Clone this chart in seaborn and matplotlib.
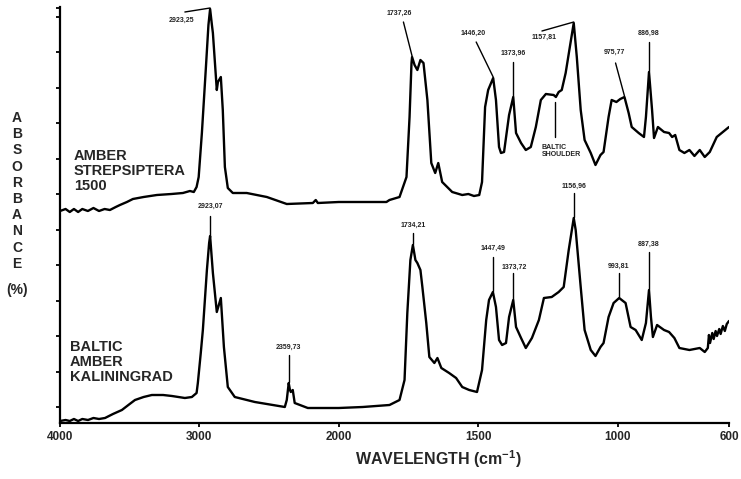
import numpy as np
import pandas as pd
import matplotlib
matplotlib.use("Agg")
import matplotlib.pyplot as plt
import seaborn as sns

# ---------------- data ----------------
top_wn = [4000, 3960, 3930, 3900, 3870, 3840, 3800, 3760, 3720, 3680, 3642, 3600, 3570, 3520,
          3477, 3400, 3305, 3200, 3118, 3068, 3040, 3020, 3005, 2982, 2953, 2935, 2923, 2910,
          2903, 2875, 2867, 2846, 2832, 2817, 2796, 2760, 2660, 2516, 2373, 2186, 2165, 2150,
          2000, 1925, 1829, 1818, 1782, 1757, 1746, 1739, 1737, 1728, 1718, 1707, 1696, 1682,
          1668, 1654, 1643, 1629, 1593, 1557, 1535, 1515, 1496, 1486, 1475, 1464, 1446, 1436,
          1425, 1418, 1407, 1389, 1374, 1364, 1346, 1329, 1311, 1293, 1275, 1257, 1229, 1221,
          1211, 1200, 1186, 1171, 1157, 1146, 1132, 1118, 1096, 1079, 1061, 1050, 1032, 1021,
          1004, 990, 975, 960, 949, 924, 905, 898, 887, 876, 869, 855, 833, 815, 804, 793,
          778, 760, 742, 724, 705, 687, 669, 644, 622, 600]
top_abs = [212, 214, 211, 214, 211, 214, 212, 215, 212, 214, 213, 216, 218, 221,
           224, 226, 228, 229, 230, 232, 231, 236, 246, 290, 356, 398, 414, 398,
           390, 333, 341, 346, 313, 256, 235, 230, 230, 226, 219, 220, 223, 220,
           221, 221, 221, 223, 226, 246, 306, 360, 366, 358, 353, 363, 360, 323,
           260, 250, 260, 241, 231, 228, 229, 227, 228, 241, 316, 333, 345, 323,
           276, 270, 271, 308, 326, 290, 280, 273, 276, 296, 323, 329, 328, 326,
           331, 333, 350, 376, 400, 366, 313, 283, 270, 258, 268, 271, 306, 323,
           321, 324, 326, 310, 296, 290, 286, 306, 351, 313, 285, 296, 291, 290, 286, 288,
           273, 270, 273, 267, 273, 266, 271, 286, 291, 296]

bot_wn = [4000, 3960, 3930, 3900, 3870, 3840, 3799, 3760, 3720, 3677, 3620, 3556, 3500, 3462,
          3400, 3341, 3260, 3197, 3104, 3054, 3020, 3011, 2990, 2975, 2946, 2930, 2923, 2903,
          2875, 2846, 2824, 2796, 2746, 2602, 2387, 2373, 2359, 2350, 2344, 2330, 2316, 2222,
          2050, 2000, 1914, 1818, 1782, 1764, 1754, 1743, 1734, 1725, 1718, 1707, 1700, 1686,
          1675, 1657, 1646, 1632, 1604, 1579, 1557, 1532, 1504, 1486, 1471, 1461, 1447, 1436,
          1425, 1414, 1400, 1389, 1374, 1364, 1346, 1329, 1307, 1282, 1264, 1236, 1211, 1193,
          1175, 1157, 1150, 1132, 1118, 1096, 1079, 1061, 1050, 1032, 1014, 994, 971, 953,
          935, 913, 898, 887, 880, 873, 858, 833, 815, 796, 778, 742, 705, 687, 676, 672,
          668, 660, 655, 648, 643, 635, 630, 622, 615, 608, 600]
bot_abs = [2, 3, 2, 4, 2, 4, 3, 5, 4, 5, 9, 13, 19, 23,
           26, 28, 28, 27, 25, 26, 30, 40, 70, 93, 153, 180, 187, 150,
           111, 125, 76, 36, 26, 21, 16, 23, 40, 33, 31, 33, 20, 15,
           15, 15, 16, 18, 23, 43, 110, 163, 178, 163, 160, 153, 136, 100,
           66, 60, 65, 55, 50, 45, 36, 33, 31, 53, 103, 123, 131, 116,
           83, 78, 80, 106, 123, 96, 85, 75, 85, 103, 125, 126, 131, 136,
           173, 205, 193, 136, 93, 73, 67, 76, 80, 106, 120, 125, 120, 96,
           93, 83, 100, 133, 106, 86, 98, 93, 91, 85, 75, 73, 75, 71, 75, 88,
           80, 90, 84, 92, 87, 94, 89, 97, 92, 99, 102]

sample_names = ["AMBER\nSTREPSIPTERA\n1500", "BALTIC\nAMBER\nKALININGRAD"]
x_ticks = [4000, 3000, 2000, 1500, 1000, 600]

# peak labels: (label, peak wavenumber, curve)
peak_labels = [("2923,25", 2923, 0), ("1737,26", 1737, 0), ("1446,20", 1446, 0),
               ("1373,96", 1374, 0), ("1157,81", 1157, 0), ("975,77", 975, 0),
               ("886,98", 887, 0),
               ("2923,07", 2923, 1), ("2359,73", 2359, 1), ("1734,21", 1734, 1),
               ("1447,49", 1447, 1), ("1373,72", 1374, 1), ("1156,96", 1157, 1),
               ("993,81", 994, 1), ("887,38", 887, 1)]
# layout of labels: (text x, text y, leader start x, leader start y)
label_layout = [(3125, 403, 3104, 411), (1782, 410, 1768, 401), (1518, 390, 1507, 381),
                (1375, 370, 1374, 361), (1264, 386, 1271, 392), (1011, 371, 1007, 360),
                (887, 390, 887, 381),
                (2923, 217, 2923, 207), (2359, 76, 2359, 68), (1734, 198, 1734, 190),
                (1447, 175, 1447, 166), (1371, 156, 1374, 150), (1157, 237, 1157, 230),
                (996, 157, 994, 150), (887, 179, 887, 171)]

# ---------------- style ----------------
sns.set_theme(style="white")
plt.rcParams['font.family'] = ['Liberation Sans', 'DejaVu Sans']
plt.rcParams['mathtext.fontset'] = 'custom'
plt.rcParams['mathtext.rm'] = 'Liberation Sans:bold'
plt.rcParams['mathtext.bf'] = 'Liberation Sans:bold'
plt.rcParams['mathtext.it'] = 'Liberation Sans:bold'

fig = plt.figure(figsize=(7.41, 4.79), dpi=100)
ax = fig.add_axes([60 / 741, 56 / 479, 669 / 741, 416 / 479])


def fwd(w):
    w = np.asarray(w, dtype=float)
    return np.where(w < 2000, (w - 600) / 500.0, 2.8 + (w - 2000) / 1000.0)


def inv(u):
    u = np.asarray(u, dtype=float)
    return np.where(u < 2.8, 600 + u * 500.0, 2000 + (u - 2.8) * 1000.0)


ax.set_xscale('function', functions=(fwd, inv))

df_top = pd.DataFrame({"wn": top_wn, "abs": top_abs})
df_bot = pd.DataFrame({"wn": bot_wn, "abs": bot_abs})
sns.lineplot(data=df_top, x="wn", y="abs", ax=ax, color="black", lw=1.7, sort=False)
sns.lineplot(data=df_bot, x="wn", y="abs", ax=ax, color="black", lw=1.7, sort=False)

ax.set_xlim(4000, 600)
ax.set_ylim(0, 416)
ax.set_xticks(x_ticks)
ax.set_xticklabels([str(t) for t in x_ticks], fontsize=8.5, fontweight='bold')
ax.xaxis.set_minor_locator(matplotlib.ticker.NullLocator())
ax.set_yticks(list(np.arange(16, 410, 35.5)) + [415])
ax.set_yticklabels([])
ax.tick_params(axis='both', direction='out', length=3, width=1.3, color='black',
               left=True, bottom=True, pad=3)
ax.set_xlabel("")
ax.set_ylabel("")
for s in ["top", "right"]:
    ax.spines[s].set_visible(False)
for s in ["left", "bottom"]:
    ax.spines[s].set_color("black")
    ax.spines[s].set_linewidth(1.6)

# sample names
ax.text(3900, 252, sample_names[0], fontsize=10.5, fontweight='bold', ha='left', va='center',
        linespacing=1.1)
ax.text(3928, 61, sample_names[1], fontsize=10.5, fontweight='bold', ha='left', va='center',
        linespacing=1.05)

# peak labels with leader lines
curves = [(top_wn, top_abs), (bot_wn, bot_abs)]
for (lab, pw, ci), (tx, ty, lx, ly) in zip(peak_labels, label_layout):
    cw, ca = curves[ci]
    py = float(np.interp(pw, cw[::-1], ca[::-1]))
    ax.plot([lx, pw], [ly, py + 1], color='black', lw=1.0)
    ax.text(tx, ty, lab, fontsize=5, fontweight='bold', ha='center', va='center',
            color='#222222')

# Baltic shoulder marker
ax.plot([1225, 1225], [286, 321], color='black', lw=1.0)
ax.text(1271, 272, "BALTIC\nSHOULDER", fontsize=5, fontweight='bold', ha='left',
        va='center', color='#222222', linespacing=1.1)

# axis titles
fig.text(17 / 741, 1 - 191 / 479, "\n".join("ABSORBANCE"), fontsize=10, fontweight='bold',
         ha='center', va='center', linespacing=1.2)
fig.text(17 / 741, 1 - 290 / 479, "(%)", fontsize=10, fontweight='bold', ha='center',
         va='center')
fig.text(438 / 741, 1 - 459 / 479, r"WAVELENGTH (cm$^{\mathbf{-1}}$)", fontsize=11.5,
         fontweight='bold', ha='center', va='center')

fig.savefig("out.png", dpi=100)
